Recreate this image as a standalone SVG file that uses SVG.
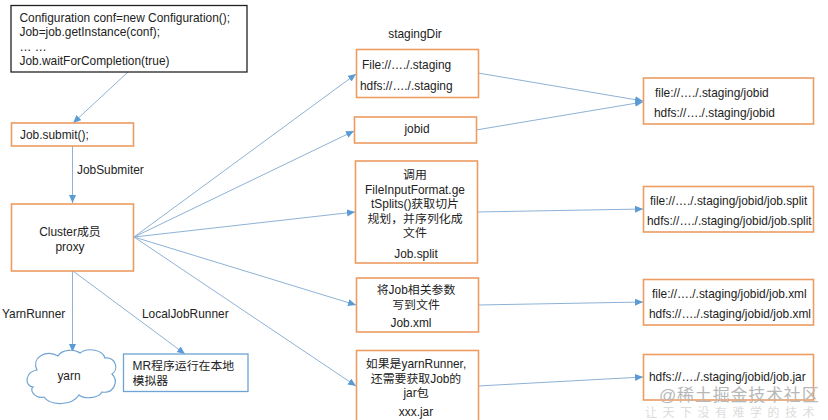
<svg xmlns="http://www.w3.org/2000/svg" width="828" height="420" viewBox="0 0 828 420">
<style>
text{font-family:"Liberation Sans","Noto Sans CJK SC",sans-serif;font-size:11.9px;fill:#222}
.m{text-anchor:middle}
.o{fill:#fff;stroke:#ed9c62;stroke-width:1.6}
.c{fill:none;stroke:#8db2d6;stroke-width:1;marker-end:url(#a)}
.wm{fill:#b8b8b8;font-size:17px;letter-spacing:.8px}
.wm2{fill:#dcdcdc;font-size:12px;letter-spacing:5.5px}
</style>
<defs><marker id="a" markerUnits="userSpaceOnUse" markerWidth="9" markerHeight="8" refX="8" refY="3.5" orient="auto"><path d="M0 0L8 3.5L0 7z" fill="#5b9bd5"/></marker></defs>
<rect width="828" height="420" fill="#fff"/>
<g id="connectors">
<path class="c" d="M128 72L73 123"/>
<path class="c" d="M72.500 146V203"/>
<path class="c" d="M134 237L356 74"/>
<path class="c" d="M134 237L354 131"/>
<path class="c" d="M134 237L355 212"/>
<path class="c" d="M134 237L356 305"/>
<path class="c" d="M134 237L356 386"/>
<path class="c" d="M72.500 271V352"/>
<path class="c" d="M73 271L185 354"/>
<path class="c" d="M478 73L643 101"/>
<path class="c" d="M476 130L643 102"/>
<path class="c" d="M477 212L643 209"/>
<path class="c" d="M478 305L643 302"/>
<path class="c" d="M478 386L643 377"/>
</g>
<g id="n-config"><rect x="11" y="5.500" width="236" height="66.500" fill="#fff" stroke="#222" stroke-width="1.300"/>
<text x="19.500" y="22">Configuration conf=new Configuration();</text><text x="19.500" y="36">Job=job.getInstance(conf);</text><text x="19.500" y="51">… …</text><text x="19.500" y="65">Job.waitForCompletion(true)</text></g>
<g id="n-submit"><rect class="o" x="11.500" y="123" width="122" height="23"/><text x="20" y="139">Job.submit();</text></g>
<text id="l-submiter" x="77" y="174">JobSubmiter</text>
<g id="n-cluster"><rect class="o" x="11.500" y="204" width="122" height="67"/><text class="m" x="70" y="236">Cluster成员</text><text class="m" x="70" y="251">proxy</text></g>
<text id="l-yarn" x="2" y="318">YarnRunner</text>
<text id="l-local" x="142" y="318">LocalJobRunner</text>
<g id="n-yarn"><path d="M37 370C31 357 47 349 58 356C62 349 75 349 80 353C88 347 103 350 105 358C116 357 119 370 112 374C119 381 114 394 102 392C98 399 84 399 79 395C72 406 50 406 44 397C35 399 29 390 33 387C24 386 25 372 37 370Z" fill="#fff" stroke="#6fa3d3" stroke-width="1.200"/><text class="m" x="69" y="380">yarn</text></g>
<g id="n-local"><rect x="123.500" y="354" width="124.500" height="37.500" fill="#fff" stroke="#6fa3d3" stroke-width="1.300"/><text x="132.500" y="370">MR程序运行在本地</text><text x="132.500" y="385">模拟器</text></g>
<text id="l-staging" class="m" x="415" y="38">stagingDir</text>
<g id="n-staging"><rect class="o" x="356.500" y="49.500" width="122" height="48"/><text x="362" y="69">File://…./.staging</text><text x="360" y="90">hdfs://…./.staging</text></g>
<g id="n-jobid"><rect class="o" x="354.500" y="117" width="122" height="26"/><text class="m" x="417" y="133">jobid</text></g>
<g id="n-split"><rect class="o" x="355.500" y="161" width="122" height="102"/><text class="m" x="415" y="179">调用</text><text class="m" x="415" y="194">FileInputFormat.ge</text><text class="m" x="415" y="208">tSplits()获取切片</text><text class="m" x="415" y="223">规划，并序列化成</text><text class="m" x="415" y="237">文件</text><text class="m" x="416" y="258">Job.split</text></g>
<g id="n-xml"><rect class="o" x="356.500" y="278" width="122" height="54"/><text class="m" x="416" y="294">将Job相关参数</text><text class="m" x="416" y="309">写到文件</text><text class="m" x="411" y="327">Job.xml</text></g>
<g id="n-jar"><rect class="o" x="356.500" y="350.500" width="122" height="75"/><text class="m" x="416" y="368">如果是yarnRunner,</text><text class="m" x="416" y="383">还需要获取Job的</text><text class="m" x="416" y="397">jar包</text><text class="m" x="416" y="416">xxx.jar</text></g>
<g id="n-r1"><rect class="o" x="643.500" y="78" width="170" height="46"/><text x="655" y="97">file://…./.staging/jobid</text><text x="654" y="117">hdfs://…./.staging/jobid</text></g>
<g id="n-r2"><rect class="o" x="643.500" y="186.500" width="170" height="45.500"/><text x="650" y="205">file://…./.staging/jobid/job.split</text><text x="647" y="225">hdfs://…./.staging/jobid/job.split</text></g>
<g id="n-r3"><rect class="o" x="643.500" y="279.500" width="170" height="45.500"/><text x="652" y="298">file://…./.staging/jobid/job.xml</text><text x="649" y="318">hdfs://…./.staging/jobid/job.xml</text></g>
<g id="n-r4"><rect class="o" x="643.500" y="354.500" width="170" height="45.500"/><text x="649" y="381">hdfs://…./.staging/jobid/job.jar</text></g>
<g id="watermark"><text class="wm" x="659" y="401">@稀土掘金技术社区</text><text class="wm2" x="645" y="417">让天下没有难学的技术</text></g>
</svg>
